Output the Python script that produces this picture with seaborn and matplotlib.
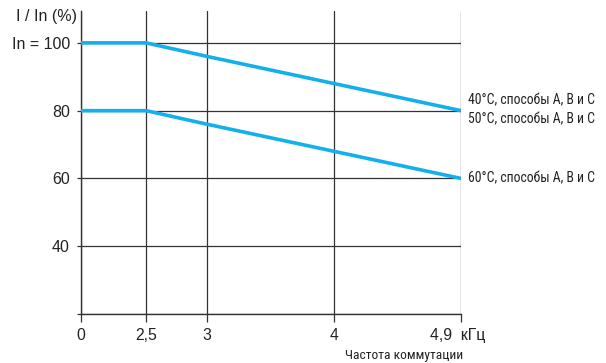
import numpy as np
import pandas as pd
import matplotlib
matplotlib.use("Agg")
import matplotlib.pyplot as plt
import matplotlib.transforms as mtransforms
import seaborn as sns
from matplotlib import font_manager

# ---- data ----
freq_khz = [0, 2.5, 3, 4, 4.9]
xtick_labels = ["0", "2,5", "3", "4", "4,9  кГц"]
curve_40_50 = [100, 100, 96, 88, 80]
curve_60 = [80, 80, 76, 68, 60]
yticks = [20, 40, 60, 80, 100]
ytick_labels = ["", "40", "60", "80", "In = 100"]
series_labels = ["40°C, способы A, B и C", "50°C, способы A, B и C", "60°C, способы A, B и C"]

# non-linear (piecewise) frequency axis as drawn in the original
axis_knots = [0, 65, 126, 253, 380]

sns.set_theme(style="white")
names = {f.name for f in font_manager.fontManager.ttflist}
narrow = next((n for n in ["Roboto Condensed", "PT Sans Narrow", "Archivo Narrow"] if n in names), "DejaVu Sans")
regular = ["Liberation Sans", "DejaVu Sans"]
plt.rcParams["font.family"] = regular

fig = plt.figure(figsize=(6.06, 3.63), dpi=100)
W, H = 606, 363
ax = fig.add_axes([81 / W, 1 - 314 / H, (461 - 81) / W, (314 - 11) / H])

fwd = lambda x: np.interp(x, freq_khz, axis_knots, left=-1e3, right=1e3)
inv = lambda p: np.interp(p, axis_knots, freq_khz)
ax.set_xscale("function", functions=(fwd, inv))

df = pd.DataFrame({
    "f": freq_khz * 2,
    "v": curve_40_50 + curve_60,
    "s": ["a"] * len(freq_khz) + ["b"] * len(freq_khz),
})
blue = "#14b0ec"
sns.lineplot(data=df, x="f", y="v", units="s", estimator=None, color=blue,
             linewidth=2.6, ax=ax, legend=False, solid_capstyle="butt", zorder=3)

ax.set_xlim(0, 4.9)
ax.set_ylim(20, 109.4)
ax.set_xticks(freq_khz)
ax.set_xticklabels(xtick_labels, family=regular)
ax.set_yticks(yticks)
ax.set_yticklabels(ytick_labels, family=regular)
ax.set_xlabel("")
ax.set_ylabel("")

for s in ["top", "right"]:
    ax.spines[s].set_visible(False)
for s in ["left", "bottom"]:
    ax.spines[s].set_color("#333333")
    ax.spines[s].set_linewidth(1.0)

ax.grid(True, color="#333333", linewidth=0.9)
ax.tick_params(axis="x", direction="out", length=6, width=0.9, color="#333333",
               pad=4, labelsize=11.3, labelcolor="#222222", bottom=True)
ax.tick_params(axis="y", direction="out", length=3, width=0.9, color="#333333",
               pad=5, labelsize=11.5, labelcolor="#222222", left=True)
# the last label ("4,9  кГц") sits a little left of centre on its tick in the original
last = ax.get_xticklabels()[-1]
last.set_transform(last.get_transform() + mtransforms.ScaledTranslation(-3 / 100, 0, fig.dpi_scale_trans))

# right-hand curve labels
kw = dict(textcoords="offset pixels", va="center", ha="left", fontsize=9.9,
          family=narrow, color="#222222", annotation_clip=False)
ax.annotate(series_labels[0], xy=(4.9, 80), xytext=(7, 10), **kw)
ax.annotate(series_labels[1], xy=(4.9, 80), xytext=(7, -9), **kw)
ax.annotate(series_labels[2], xy=(4.9, 60), xytext=(7, 0), **kw)

# axis titles
fig.text(77 / W, 1 - 17 / H, "I / In (%)", ha="right", va="center", fontsize=11.5,
         color="#222222", family=regular)
fig.text(404 / W, 1 - 356 / H, "Частота коммутации", ha="center", va="center",
         fontsize=9.7, family=narrow, color="#222222")

fig.savefig("out.png", dpi=100)
